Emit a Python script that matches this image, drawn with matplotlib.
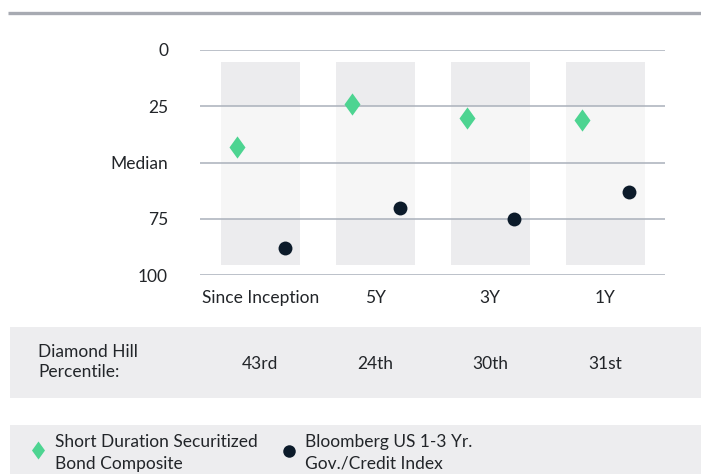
import matplotlib.pyplot as plt
import matplotlib.patches as mpatches
from matplotlib.path import Path
import numpy as np

plt.rcParams['font.family'] = ['Lato', 'DejaVu Sans']

# data
periods = ["Since Inception", "5Y", "3Y", "1Y"]
composite = [43, 24, 30, 31]      # Short Duration Securitized Bond Composite
benchmark = [88, 70, 75, 63]      # Bloomberg US 1-3 Yr. Gov./Credit Index
percentile_labels = ["43rd", "24th", "30th", "31st"]
yticks = [0, 25, 50, 75, 100]
ytick_labels = ["0", "25", "Median", "75", "100"]

green = "#4dd491"
navy = "#0c1b2a"
grid_c = "#aab0ba"
txt = "#222529"
fs = 12.5
W, H = 701, 474

fig = plt.figure(figsize=(W / 100, H / 100), dpi=100)

# background overlay in pixel coords
bg = fig.add_axes([0, 0, 1, 1])
bg.set_xlim(0, W)
bg.set_ylim(H, 0)
bg.axis("off")
bg.plot([8, W], [13, 13], color="#a7aab2", lw=2.4, solid_capstyle="butt")
bg.add_patch(mpatches.Rectangle((10, 327), W - 10, 71, color="#ededef", lw=0))
bg.add_patch(mpatches.Rectangle((10, 425), W - 10, 60, color="#ededef", lw=0))

# diamond marker
diamond = Path([(0, 1), (0.72, 0), (0, -1), (-0.72, 0), (0, 1)],
               [Path.MOVETO, Path.LINETO, Path.LINETO, Path.LINETO, Path.CLOSEPOLY])

ax = fig.add_axes([200 / W, 1 - 275 / H, 465 / W, 225 / H])
ax.set_xlim(-0.526, 3.52)
ax.set_ylim(100, 0)
ax.patch.set_alpha(0)

x = np.arange(len(periods))
hw = 0.343
for xi in x:
    ax.add_patch(mpatches.Rectangle((xi - hw, 5.5), 2 * hw, 90, color="#ececee", lw=0, zorder=0))
    ax.add_patch(mpatches.Rectangle((xi - hw, 25), 2 * hw, 50, color="#f6f6f6", lw=0, zorder=0.5))

for yv in yticks:
    ax.axhline(yv, color=grid_c, lw=1.1, zorder=1)

ax.plot(x - 0.205, composite, ls="none", marker=diamond, ms=16, color=green, mew=0, zorder=3)
ax.plot(x + 0.21, benchmark, ls="none", marker="o", ms=10, color=navy, mew=0, zorder=3)

ax.set_yticks(yticks)
ax.set_yticklabels(ytick_labels)
ax.set_xticks(x)
ax.set_xticklabels(periods)
ax.tick_params(axis="y", length=0, pad=23, labelsize=fs, labelcolor=txt)
ax.tick_params(axis="x", length=0, pad=11, labelsize=fs, labelcolor=txt)
for s in ax.spines.values():
    s.set_visible(False)

# percentile row
bg.text(38, 362, "Diamond Hill\nPercentile:", fontsize=fs, color=txt, va="center", ha="left",
        linespacing=1.38)
for xi, lab in zip(x, percentile_labels):
    px = 200 + (xi + 0.526) * 465 / (3.52 + 0.526)
    bg.text(px, 364, lab, fontsize=fs, color=txt, va="center", ha="center")

# legend
bg.plot([38], [450], marker=diamond, ms=13, color=green, mew=0, ls="none")
bg.text(55, 453, "Short Duration Securitized\nBond Composite", fontsize=fs, color=txt,
        va="center", ha="left", linespacing=1.4)
bg.plot([289], [451], marker="o", ms=9, color=navy, mew=0, ls="none")
bg.text(305, 453, "Bloomberg US 1-3 Yr.\nGov./Credit Index", fontsize=fs, color=txt,
        va="center", ha="left", linespacing=1.4)

fig.savefig("out.png", dpi=100)
